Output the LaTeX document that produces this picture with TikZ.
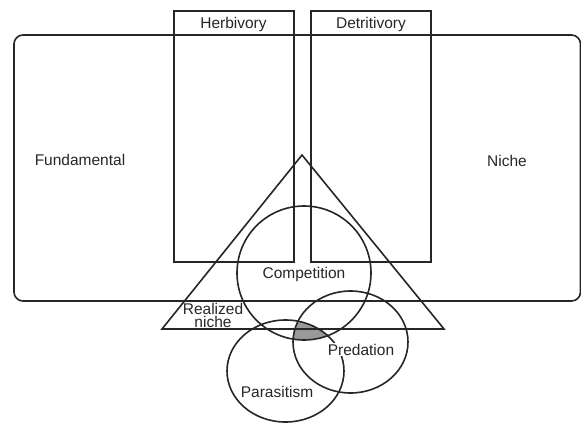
\documentclass[tikz,border=0pt]{standalone}
\usepackage{fontspec}
\setmainfont{Liberation Sans}
\begin{document}
\begin{tikzpicture}[x=1pt,y=-1pt,
  shape line/.style={draw=black!85,line width=1.6pt},
  lbl/.style={anchor=base,inner sep=1pt,font=\fontsize{15.5}{17}\selectfont,text=black!85}]
\useasboundingbox (0,0) rectangle (581,423);
% gray common region
\begin{scope}
  \clip (304,273) circle[radius=67];
  \clip (350.5,342) ellipse[x radius=57.5,y radius=51];
  \fill[black!40] (285.5,371) ellipse[x radius=58.5,y radius=51];
\end{scope}
% fundamental niche box
\draw[shape line,rounded corners=9pt] (14,35) rectangle (580.5,301);
% herbivory / detritivory boxes
\draw[shape line] (174,11) rectangle (294,262);
\draw[shape line] (311,11) rectangle (431,262);
% realized niche triangle
\coordinate (apex) at (302,155);
\coordinate (bl) at (162,329);
\coordinate (br) at (444,329);
\draw[shape line] (apex) -- (bl) -- (br) -- cycle;
% circles
\draw[shape line] (304,273) circle[radius=67];
\draw[shape line] (350.5,342) ellipse[x radius=57.5,y radius=51];
\draw[shape line] (285.5,371) ellipse[x radius=58.5,y radius=51];
% labels
\node[lbl] (herb) at (233.5,28.5) {Herbivory};
\node[lbl] (detr) at (371,28.5) {Detritivory};
\node[lbl] (fund) at (80,165.5) {Fundamental};
\node[lbl] (niche) at (507,166.5) {Niche};
\node[lbl] (comp) at (304,278.5) {Competition};
\node[lbl,anchor=center,inner sep=0pt,align=center,font=\fontsize{15.5}{13.5}\selectfont] (real) at (213,315.5) {Realized\\niche};
\node[lbl,fill=white] (pred) at (361,355) {Predation};
\node[lbl] (para) at (277,397) {Parasitism};
\end{tikzpicture}
\end{document}
